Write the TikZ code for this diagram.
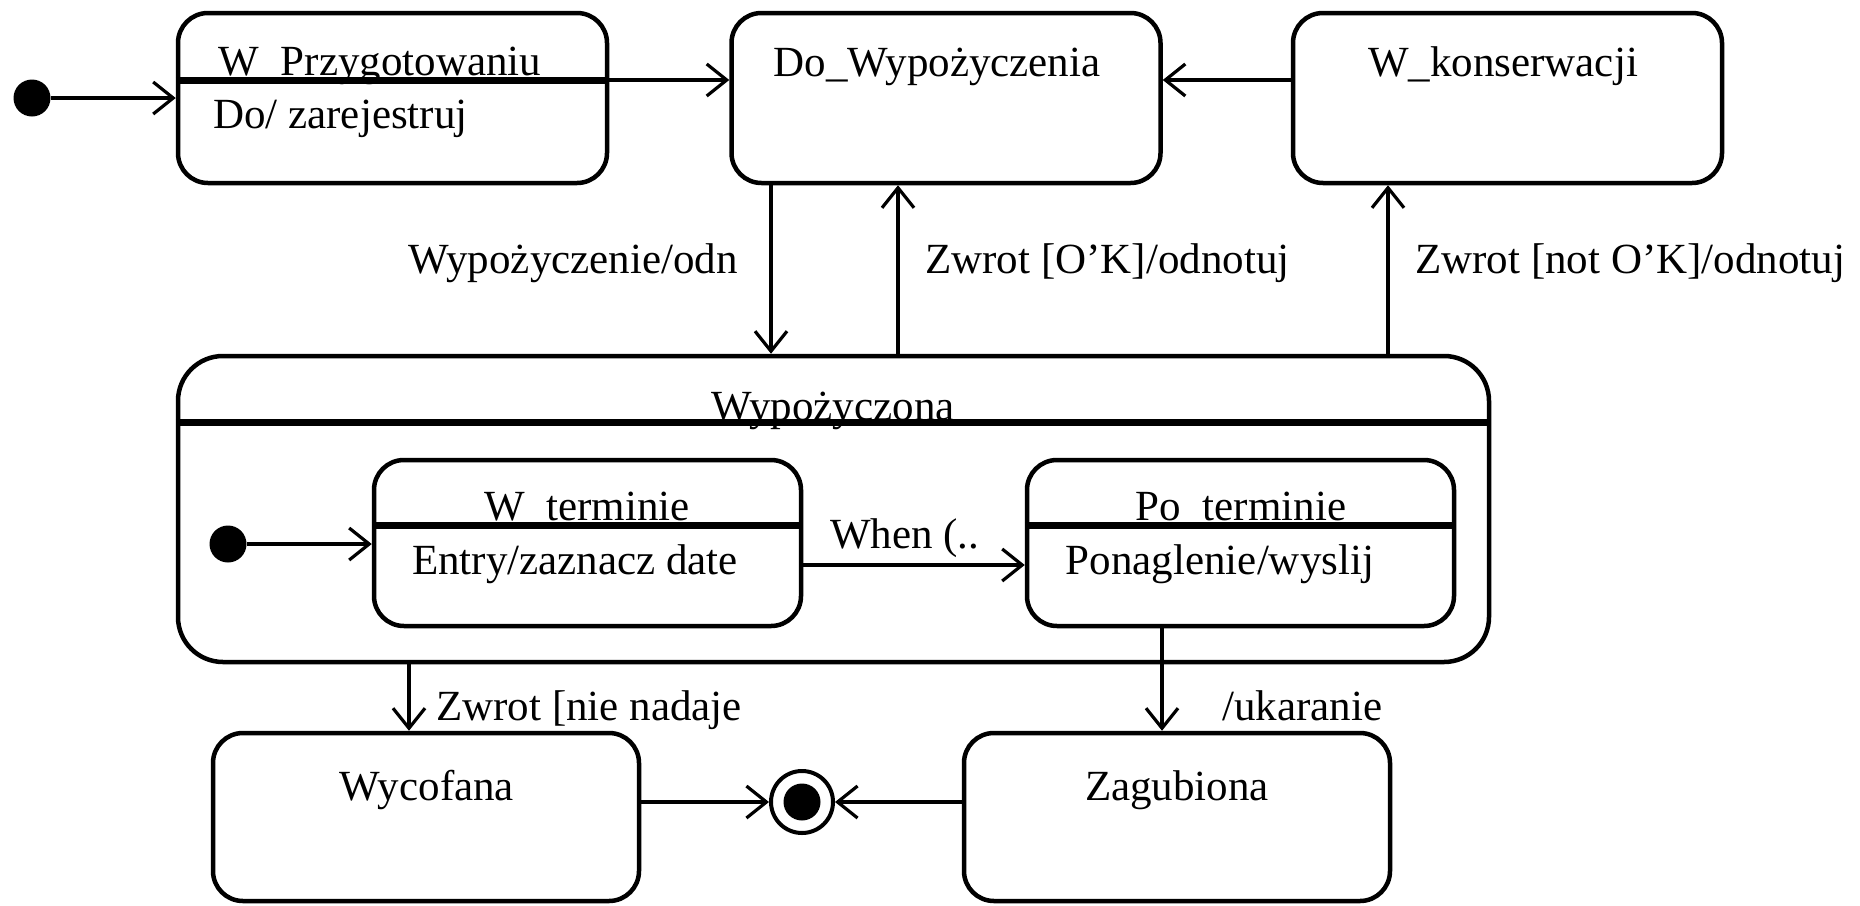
\documentclass[tikz,border=0pt]{standalone}
\usepackage{fontspec}
\setmainfont{Liberation Serif}
\usetikzlibrary{arrows.meta}
\begin{document}
\begin{tikzpicture}[x=1pt,y=-1pt,
  box/.style={draw, line width=4.5pt, rounded corners=30pt, inner sep=0pt},
  txt/.style={inner sep=0pt, font=\fontsize{43}{50}\selectfont, anchor=base},
  conn/.style={line width=3.2pt, -{Straight Barb[length=20pt,width=32pt,line width=3.2pt]}},
  divider/.style={line width=7pt},
  startdot/.style={circle, fill=black, inner sep=0pt, minimum size=37pt},
  enddot/.style={circle, draw, line width=4pt, fill=white, inner sep=0pt, minimum size=62pt}]
\useasboundingbox (0,0) rectangle (1860,905);

% top row of states
\node[box, minimum width=429pt, minimum height=170pt] (prep) at (392.5,98) {};
\node[box, minimum width=429pt, minimum height=170pt] (avail) at (946,98) {};
\node[box, minimum width=429pt, minimum height=170pt] (cons) at (1507.5,98) {};
\draw[divider] (prep.west |- 0,80) -- (prep.east |- 0,80);

% composite state with its substates
\node[box, rounded corners=45pt, minimum width=1311pt, minimum height=306pt] (lent) at (833.5,509) {};
\draw[divider] (lent.west |- 0,422) -- (lent.east |- 0,422);
\node[box, minimum width=427pt, minimum height=166pt] (ontime) at (587.5,543) {};
\node[box, minimum width=427pt, minimum height=166pt] (late) at (1240.5,543) {};
\draw[divider] (ontime.west |- 0,525) -- (ontime.east |- 0,525);
\draw[divider] (late.west |- 0,525) -- (late.east |- 0,525);

% bottom row of states
\node[box, minimum width=426pt, minimum height=168pt] (withdrawn) at (426,817) {};
\node[box, minimum width=426pt, minimum height=168pt] (lost) at (1177,817) {};

% pseudostates
\node[startdot] (init) at (32,98) {};
\node[startdot] (init2) at (228,544) {};
\node[enddot] (final) at (802,802) {};
\node[circle, fill=black, inner sep=0pt, minimum size=37pt] (finalcore) at (final.center) {};

% state texts
\node[txt] (tprep) at (380,75) {W\_Przygotowaniu};
\node[txt, anchor=base west] (tprepdo) at (213,128) {Do/ zarejestruj};
\node[txt] (tavail) at (937,76) {Do\_Wypożyczenia};
\node[txt] (tcons) at (1503,76) {W\_konserwacji};
\node[txt] (tlent) at (833,420) {Wypożyczona};
\node[txt] (tontime) at (587,520) {W\_terminie};
\node[txt] (tontimeentry) at (575,574) {Entry/zaznacz date};
\node[txt] (tlate) at (1241,520) {Po\_terminie};
\node[txt] (tlatedo) at (1220,574) {Ponaglenie/wyslij};
\node[txt] (twithdrawn) at (427,800) {Wycofana};
\node[txt] (tlost) at (1177,800) {Zagubiona};

% transitions
\draw[conn] (init) -- (init -| prep.west);
\draw[conn] (prep.east |- 0,80) -- (avail.west |- 0,80);
\draw[conn] (cons.west |- 0,80) -- (avail.east |- 0,80);
\draw[conn] (avail.south -| 771,0) -- (lent.north -| 771,0);
\draw[conn] (lent.north -| 898,0) -- (avail.south -| 898,0);
\draw[conn] (lent.north -| 1388,0) -- (cons.south -| 1388,0);
\draw[conn] (init2) -- (init2 -| ontime.west);
\draw[conn] (ontime.east |- 0,565) -- (late.west |- 0,565);
\draw[conn] (lent.south -| 409,0) -- (withdrawn.north -| 409,0);
\draw[conn] (late.south -| 1162,0) -- (lost.north -| 1162,0);
\draw[conn] (withdrawn.east |- final) -- (final.west);
\draw[conn] (lost.west |- final) -- (final.east);

% transition labels
\node[txt, anchor=base east] (lborrow) at (738,273) {Wypożyczenie/odn};
\node[txt, anchor=base west] (lreturnok) at (925,273) {Zwrot [O’K]/odnotuj};
\node[txt, anchor=base west] (lreturnbad) at (1415,273) {Zwrot [not O’K]/odnotuj};
\node[txt, anchor=base west] (lwhen) at (830,548) {When (..};
\node[txt, anchor=base west] (lwithdraw) at (436,720) {Zwrot [nie nadaje};
\node[txt, anchor=base west] (lpenalty) at (1222,720) {/ukaranie};
\end{tikzpicture}
\end{document}
